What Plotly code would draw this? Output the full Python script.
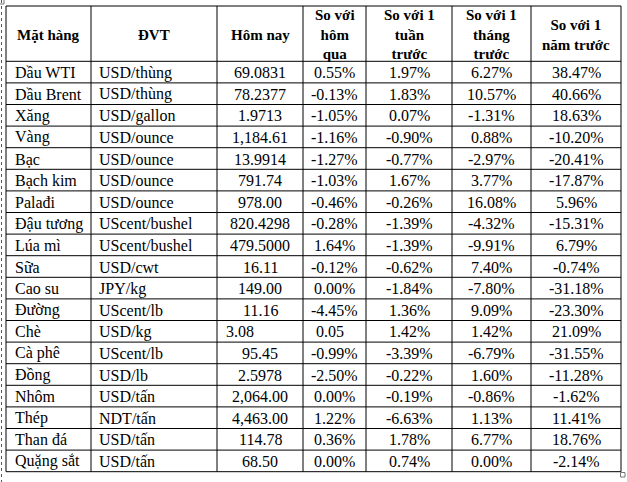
import numpy as np
import plotly.graph_objects as go

headers = ["Mặt hàng", "ĐVT", "Hôm nay", "So với<br>hôm<br>qua", "So với 1<br>tuần<br>trước",
           "So với 1<br>tháng<br>trước", "So với 1<br>năm trước"]
mat_hang = ["Dầu WTI", "Dầu Brent", "Xăng", "Vàng", "Bạc", "Bạch kim", "Palađi", "Đậu tương",
            "Lúa mì", "Sữa", "Cao su", "Đường", "Chè", "Cà phê", "Đồng", "Nhôm", "Thép",
            "Than đá", "Quặng sắt"]
dvt = ["USD/thùng", "USD/thùng", "USD/gallon", "USD/ounce", "USD/ounce", "USD/ounce", "USD/ounce",
       "UScent/bushel", "UScent/bushel", "USD/cwt", "JPY/kg", "UScent/lb", "USD/kg", "UScent/lb",
       "USD/lb", "USD/tấn", "NDT/tấn", "USD/tấn", "USD/tấn"]
hom_nay = ["69.0831", "78.2377", "1.9713", "1,184.61", "13.9914", "791.74", "978.00", "820.4298",
           "479.5000", "16.11", "149.00", "11.16", "3.08", "95.45", "2.5978", "2,064.00", "4,463.00",
           "114.78", "68.50"]
so_voi_hom_qua = ["0.55%", "-0.13%", "-1.05%", "-1.16%", "-1.27%", "-1.03%", "-0.46%", "-0.28%",
                  "1.64%", "-0.12%", "0.00%", "-4.45%", "0.05", "-0.99%", "-2.50%", "0.00%",
                  "1.22%", "0.36%", "0.00%"]
so_voi_tuan = ["1.97%", "1.83%", "0.07%", "-0.90%", "-0.77%", "1.67%", "-0.26%", "-1.39%",
               "-1.39%", "-0.62%", "-1.84%", "1.36%", "1.42%", "-3.39%", "-0.22%", "-0.19%",
               "-6.63%", "1.78%", "0.74%"]
so_voi_thang = ["6.27%", "10.57%", "-1.31%", "0.88%", "-2.97%", "3.77%", "16.08%", "-4.32%",
                "-9.91%", "7.40%", "-7.80%", "9.09%", "1.42%", "-6.79%", "1.60%", "-0.86%",
                "1.13%", "6.77%", "0.00%"]
so_voi_nam = ["38.47%", "40.66%", "18.63%", "-10.20%", "-20.41%", "-17.87%", "5.96%", "-15.31%",
              "6.79%", "-0.74%", "-31.18%", "-23.30%", "21.09%", "-31.55%", "-11.28%", "-1.62%",
              "11.41%", "18.76%", "-2.14%"]

columns = [mat_hang, dvt, hom_nay, so_voi_hom_qua, so_voi_tuan, so_voi_thang, so_voi_nam]

# ---- layout (pixel units) ----
W, H = 627, 482
LEFT, TOP = 6, 6
col_w = [85, 126, 86, 63, 86, 79, 90]
head_h = 55.3
row_h = 21.6
col_align = ["left", "left", "center", "center", "center", "center", "center"]
left_cells = {(12, 2): 7, (12, 3): 11}   # Chè row is left-aligned in the reference
FONT = "Liberation Serif, Times New Roman, serif"

xs = LEFT + np.concatenate([[0], np.cumsum(col_w)])
ys = TOP + np.concatenate([[0], head_h + row_h * np.arange(len(mat_hang) + 1)])

fig = go.Figure()
shapes, notes = [], []
for x in xs:
    shapes.append(dict(type="line", x0=x, x1=x, y0=ys[0], y1=ys[-1], line=dict(color="black", width=1)))
for y in ys:
    shapes.append(dict(type="line", x0=xs[0], x1=xs[-1], y0=y, y1=y, line=dict(color="black", width=1)))

# word-processor artefacts: dotted margin line and resize handles
shapes.append(dict(type="line", x0=1.5, x1=1.5, y0=0, y1=H, line=dict(color="#555", width=1, dash="dot")))
shapes.append(dict(type="rect", x0=620.5, x1=625, y0=472.5, y1=477, line=dict(color="#777", width=1)))
shapes.append(dict(type="rect", x0=-1, x1=4, y0=-1, y1=4, line=dict(color="#777", width=1)))

for j, h in enumerate(headers):
    notes.append(dict(x=(xs[j] + xs[j + 1]) / 2, y=(ys[0] + ys[1]) / 2 + 1, text="<b>%s</b>" % h,
                      xanchor="center", yanchor="middle", align="center", showarrow=False,
                      font=dict(family=FONT, size=15, color="black")))

for i in range(len(mat_hang)):
    yc = (ys[i + 1] + ys[i + 2]) / 2 + 0.5
    for j, col in enumerate(columns):
        if (i, j) in left_cells:
            x, anc = xs[j] + left_cells[(i, j)], "left"
        elif col_align[j] == "left":
            x, anc = xs[j] + (7 if j == 0 else 6), "left"
        else:
            x, anc = (xs[j] + xs[j + 1]) / 2, "center"
        notes.append(dict(x=x, y=yc, text=col[i], xanchor=anc, yanchor="middle", showarrow=False,
                          font=dict(family=FONT, size=16, color="black")))

fig.update_layout(
    width=W, height=H, margin=dict(l=0, r=0, t=0, b=0),
    paper_bgcolor="white", plot_bgcolor="white", showlegend=False,
    xaxis=dict(range=[0, W], visible=False, fixedrange=True),
    yaxis=dict(range=[H, 0], visible=False, fixedrange=True),
    shapes=shapes, annotations=notes,
)
fig.write_html("out.html", config={"displayModeBar": False},
               post_script="document.body.style.margin='0';")
